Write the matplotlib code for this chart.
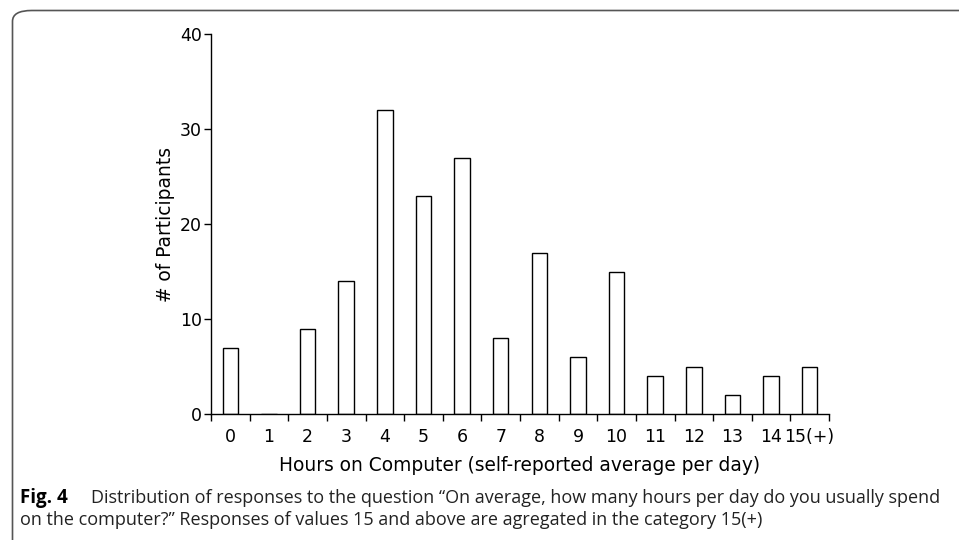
import matplotlib.pyplot as plt
from matplotlib.patches import FancyBboxPatch
from matplotlib.ticker import FixedLocator, NullFormatter

# 数据
hours = ["0", "1", "2", "3", "4", "5", "6", "7", "8", "9", "10",
         "11", "12", "13", "14", "15(+)"]
participants = [7, 0, 9, 14, 32, 23, 27, 8, 17, 6, 15, 4, 5, 2, 4, 5]

x_label = "Hours on Computer (self-reported average per day)"
y_label = "# of Participants"
caption_bold = "Fig. 4"
caption_line1 = ("Distribution of responses to the question \u201cOn average, "
                 "how many hours per day do you usually spend")
caption_line2 = ("on the computer?\u201d Responses of values 15 and above are "
                 "agregated in the category 15(+)")

W, H = 959, 540
fig = plt.figure(figsize=(W / 100, H / 100), dpi=100)
fig.patch.set_facecolor("white")

# 外框（左上圆角）
frame = FancyBboxPatch((12.5 / W, -0.2), 1.2, 1 - 10.5 / H + 0.2,
                       boxstyle="round,pad=0,rounding_size=0.02",
                       transform=fig.transFigure, fill=False,
                       edgecolor="#555555", linewidth=1.2, clip_on=False)
fig.patches.append(frame)

ax = fig.add_axes([211 / W, 1 - 414 / H, (829 - 211) / W, (414 - 34) / H])
pos = list(range(len(hours)))
ax.bar(pos, participants, width=0.4, color="white", edgecolor="black",
       linewidth=1.0)

ax.set_xlim(-0.5, len(hours) - 0.5)
ax.set_ylim(0, 40)
ax.set_yticks([0, 10, 20, 30, 40])

# x 轴：标签居中，刻度线在分类边界
ax.set_xticks(pos)
ax.set_xticklabels(hours)
ax.tick_params(axis="x", which="major", length=0, pad=10, labelsize=12.5)
ax.xaxis.set_minor_locator(FixedLocator([p - 0.5 for p in pos] + [len(hours) - 0.5]))
ax.xaxis.set_minor_formatter(NullFormatter())
ax.tick_params(axis="x", which="minor", length=5, width=1, direction="out")
ax.tick_params(axis="y", length=5, width=1, pad=1.5, labelsize=12.5)

for side in ["top", "right"]:
    ax.spines[side].set_visible(False)
for side in ["left", "bottom"]:
    ax.spines[side].set_linewidth(1.0)

ax.set_xlabel(x_label, fontsize=13.4, labelpad=7)
ax.set_ylabel(y_label, fontsize=13.4, labelpad=3.5)

# 图注
cap_font = "Open Sans"
fig.text(20 / W, 1 - 503 / H, caption_bold, fontsize=13.5, fontweight="bold",
         family=cap_font, va="baseline")
fig.text(91 / W, 1 - 503 / H, caption_line1, fontsize=13,
         family=cap_font, va="baseline", color="#222222")
fig.text(20 / W, 1 - 525 / H, caption_line2, fontsize=13,
         family=cap_font, va="baseline", color="#222222")

fig.savefig("out.png", dpi=100)
